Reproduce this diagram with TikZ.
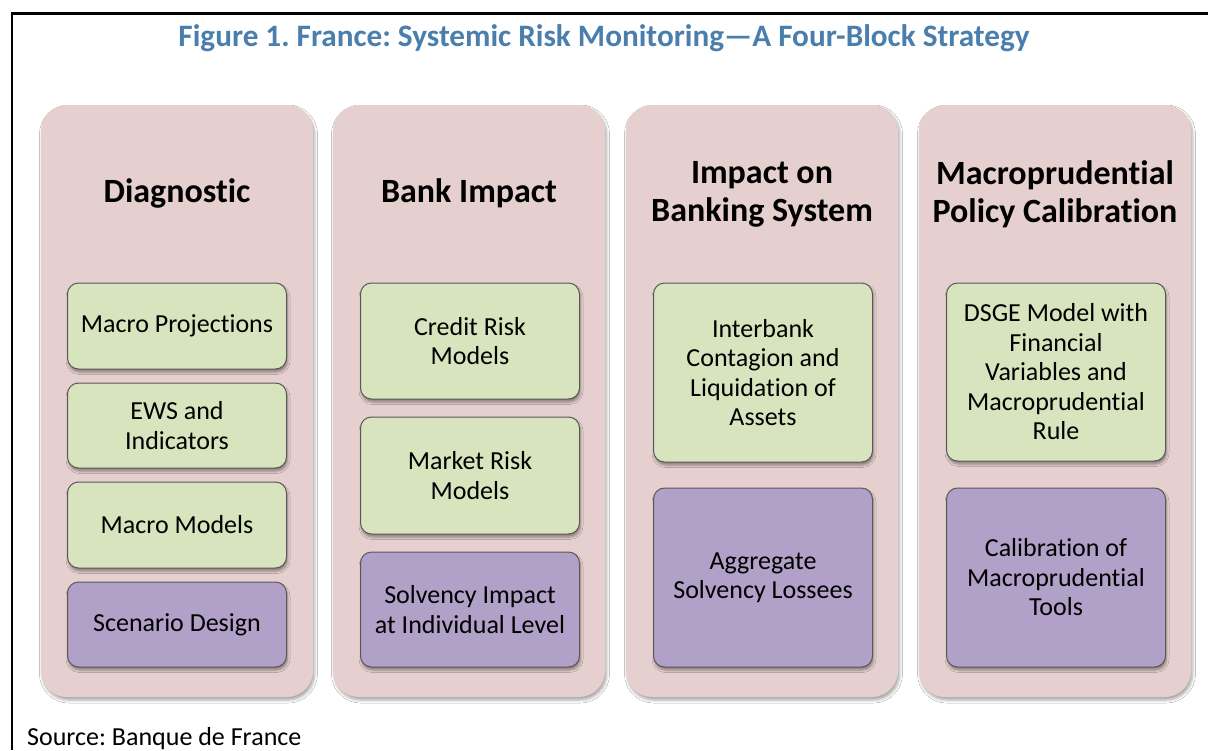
\documentclass[tikz,border=0pt]{standalone}
\usepackage{fontspec}
\setmainfont[Ligatures={NoCommon}]{Carlito}
\frenchspacing
\usetikzlibrary{shadows.blur}
\definecolor{titleblue}{RGB}{74,126,173}
\definecolor{colpink}{RGB}{230,207,207}
\definecolor{cellgreen}{RGB}{215,228,189}
\definecolor{cellpurple}{RGB}{177,160,199}
\definecolor{cellline}{RGB}{88,88,88}

\begin{document}
\begin{tikzpicture}[x=1pt,y=-1pt,
  block/.style={fill=colpink, rounded corners=26pt, minimum width=272pt, minimum height=592pt,
    inner sep=0pt,
    blur shadow={shadow xshift=1.5pt, shadow yshift=-3pt, shadow blur radius=3pt, shadow opacity=35}},
  cell/.style={draw=cellline, line width=1pt, rounded corners=11pt, minimum width=219pt,
    text width=212pt, align=flush center, inner sep=0pt, font=\fontsize{26}{29.5}\selectfont,
    blur shadow={shadow xshift=1pt, shadow yshift=-3pt, shadow blur radius=2.5pt, shadow opacity=40}},
  model/.style={cell, fill=cellgreen},
  outcome/.style={cell, fill=cellpurple},
  heading/.style={font=\fontsize{34}{38}\selectfont\bfseries, align=flush center, text width=268pt, inner sep=0pt}
]
% canvas and outer frame
\path[use as bounding box, fill=white] (0,0) rectangle (1208,750);
\draw[line width=2.4pt] (12,750) -- (12,13.5) -- (1208,13.5);

% title
\node[font=\fontsize{31.2}{34}\selectfont\bfseries, text=titleblue] (title) at (604,38)
  {Figure 1. France: Systemic Risk Monitoring---A Four-Block Strategy};

% the four blocks
\node[block] (b1) at (177,401) {};
\node[block] (b2) at (469,401) {};
\node[block] (b3) at (762,401) {};
\node[block] (b4) at (1055,401) {};

% block headings
\node[heading] (h1) at (177,193) {Diagnostic};
\node[heading] (h2) at (469,193) {Bank Impact};
\node[heading] (h3) at (762,194) {Impact on\\Banking System};
\node[heading] (h4) at (1055,194) {Macroprudential\\Policy Calibration};

% Diagnostic
\node[model, minimum height=86pt]   (d1) at (177,326)   {Macro Projections};
\node[model, minimum height=85pt]   (d2) at (177,425.5) {EWS and\\Indicators};
\node[model, minimum height=86pt]   (d3) at (177,525)   {Macro Models};
\node[outcome, minimum height=85pt] (d4) at (177,624.5) {Scenario Design};

% Bank impact
\node[model, minimum height=116pt]   (i1) at (470,341)   {Credit Risk\\Models};
\node[model, minimum height=117pt]   (i2) at (470,475.5) {Market Risk\\Models};
\node[outcome, minimum height=115pt] (i3) at (470,609.5) {Solvency Impact\\at Individual Level};

% Impact on banking system
\node[model, minimum height=179pt]   (s1) at (763,372.5) {Interbank\\Contagion and\\Liquidation of\\Assets};
\node[outcome, minimum height=179pt] (s2) at (763,577.5) {Aggregate\\Solvency Lossees};

% Macroprudential policy calibration
\node[model, minimum height=178pt]   (p1) at (1056,372) {DSGE Model with\\Financial\\Variables and\\Macroprudential\\Rule};
\node[outcome, minimum height=179pt] (p2) at (1056,577.5) {Calibration of\\Macroprudential\\Tools};

% source line
\node[anchor=base west, font=\fontsize{26}{30}\selectfont, inner sep=0pt] (src) at (27,745)
  {Source: Banque de France};
\end{tikzpicture}
\end{document}
